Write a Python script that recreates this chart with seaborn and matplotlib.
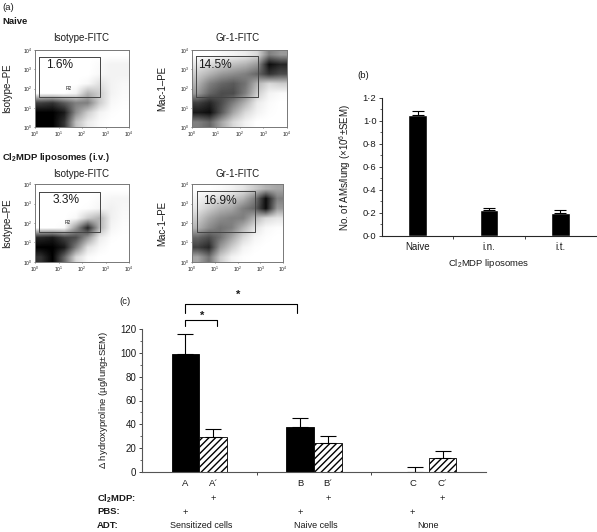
import numpy as np
import pandas as pd
import matplotlib
matplotlib.use("Agg")
import matplotlib.pyplot as plt
from matplotlib.lines import Line2D
from matplotlib.ticker import MultipleLocator
import seaborn as sns

W, H = 597, 532

# panel (a): dot density, half decade cells, top row first
naive_iso = [
    [0, 0, 0, 0, 0, 0, 0, 0],
    [0, 0, 0, 0, 0, .02, .05, .05],
    [0, 0, 0, 0, 0, .03, .05, .05],
    [0, 0, 0, 0, .03, .12, .05, .03],
    [0, 0, 0, .05, .3, .2, .05, .02],
    [.75, .8, .65, .5, .5, .2, .03, .01],
    [1, 1, .9, .45, .2, .05, .01, 0],
    [1, 1, .8, .25, .08, .02, 0, 0],
]
naive_gr1 = [
    [0, 0, .03, .05, .08, .15, .5, .4],
    [.1, .15, .2, .25, .3, .4, .95, .85],
    [.2, .3, .4, .45, .5, .6, .8, .7],
    [.3, .5, .6, .65, .55, .3, .15, .2],
    [.4, .6, .7, .7, .5, .2, .05, .02],
    [.75, .85, .7, .5, .3, .08, .02, 0],
    [.9, .95, .65, .35, .15, .05, .01, 0],
    [.5, .6, .35, .15, .05, 0, 0, 0],
]
lipo_iso = [
    [0, 0, 0, 0, 0, 0, 0, 0],
    [0, 0, 0, 0, 0, .02, .04, .04],
    [0, 0, 0, 0, .01, .04, .06, .03],
    [0, 0, 0, .03, .2, .3, .06, .02],
    [0, 0, .02, .4, .85, .3, .04, .01],
    [.85, .9, .75, .7, .4, .08, .01, 0],
    [1, 1, .9, .5, .12, .03, 0, 0],
    [.8, 1, .6, .15, .02, 0, 0, 0],
]
lipo_gr1 = [
    [0, 0, .02, .05, .1, .2, .3, .35],
    [.05, .1, .15, .2, .3, .5, .95, .5],
    [.1, .2, .3, .35, .5, .6, .95, .4],
    [.2, .35, .45, .5, .5, .3, .15, .1],
    [.3, .45, .55, .5, .3, .12, .03, .01],
    [.6, .7, .55, .35, .15, .04, .01, 0],
    [.75, .85, .4, .2, .05, .01, 0, 0],
    [.35, .55, .2, .05, .01, 0, 0, 0],
]
percents = ["1.6%", "14.5%", "3.3%", "16.9%"]
flow_ticks = [0, 1, 2, 3, 4]

# panel (b)
am_groups = ["Naive", "i.n.", "i.t."]
am_values = [1.05, 0.225, 0.2]
am_errors = [0.04, 0.02, 0.03]

# panel (c)
hyp_groups = ["Sensitized cells", "Naive cells", "None"]
hyp_treat = ["PBS", "Cl2MDP"]
hyp_pbs = [99, 38, 0]
hyp_cl2 = [29, 24, 11.5]
hyp_pbs_err = [17, 7, 4]
hyp_cl2_err = [7.5, 6, 6]
hyp_letters = ["A", "A´", "B", "B´", "C", "C´"]

sns.set_theme(style="ticks")
plt.rcParams["font.family"] = ["Liberation Sans", "DejaVu Sans"]
plt.rcParams["mathtext.fontset"] = "custom"
plt.rcParams["mathtext.rm"] = "Liberation Sans"
plt.rcParams["mathtext.bf"] = "Liberation Sans:bold"
plt.rcParams["hatch.linewidth"] = 1.0

fig = plt.figure(figsize=(W / 100, H / 100), dpi=100, facecolor="white")
TXT = "#1a1a1a"


def add_ax(x0, y0, x1, y1):
    # pixel box of the picture, y going down
    return fig.add_axes([x0 / W, 1 - y1 / H, (x1 - x0) / W, (y1 - y0) / H])


def put(x, y, s, size=6.8, ha="center", va="center", **kw):
    fig.text(x / W, 1 - y / H, s, fontsize=size, ha=ha, va=va, color=TXT, **kw)


def seg(xs, ys, lw=0.8, color="black"):
    fig.add_artist(Line2D([x / W for x in xs], [1 - y / H for y in ys], lw=lw, color=color))


'''
   --------Panel a------------
'''
put(2, 7, "(a)", ha="left")
put(2, 22, "Naive", ha="left", fontweight="bold")
put(2, 157, r"Cl$_\mathbf{2}$MDP liposomes (i.v.)", ha="left", fontweight="bold")

flow = [
    (naive_iso, (35, 50, 129, 127), (39, 57, 100, 97), percents[0], (60, 65), (69, 88), "Isotype-FITC", "Isotype–PE", 7, 38),
    (naive_gr1, (192, 50, 287, 127), (196, 56, 258, 97), percents[1], (215, 65), None, "Gr-1-FITC", "Mac-1–PE", 162, 38),
    (lipo_iso, (35, 184, 129, 262), (39, 192, 100, 232), percents[2], (66, 200), (68, 223), "Isotype-FITC", "Isotype–PE", 7, 174),
    (lipo_gr1, (192, 184, 283, 262), (197, 191, 255, 232), percents[3], (220, 201), None, "Gr-1-FITC", "Mac-1–PE", 162, 174),
]
for grid, box, gate, pct, pct_xy, r2_xy, xname, yname, yname_x, title_y in flow:
    ax = add_ax(*box)
    ax.imshow(np.array(grid), cmap="gray_r", vmin=0, vmax=1, extent=(0, 4, 0, 4),
              aspect="auto", interpolation="bilinear")
    ax.set_xticks(flow_ticks)
    ax.set_yticks(flow_ticks)
    ax.set_xticklabels([f"$10^{t}$" for t in flow_ticks], fontsize=3.5, color=TXT)
    ax.set_yticklabels([f"$10^{t}$" for t in flow_ticks], fontsize=3.5, color=TXT)
    ax.tick_params(length=1, width=0.4, pad=0.8)
    for s in ax.spines.values():
        s.set_linewidth(0.7)
        s.set_color("#777777")
    seg([gate[0], gate[2], gate[2], gate[0], gate[0]],
        [gate[1], gate[1], gate[3], gate[3], gate[1]], lw=0.7, color="#444444")
    put(pct_xy[0], pct_xy[1], pct, size=8.6)
    if r2_xy:
        put(r2_xy[0], r2_xy[1], "R2", size=3.5)
    put(238 if box[0] > 100 else 81, title_y, xname, size=7)
    put(yname_x, (box[1] + box[3]) / 2, yname, size=7, rotation=90)

'''
   --------Panel b------------
'''
put(363, 76, "(b)")
ax_b = add_ax(382, 98, 596, 236)
df_b = pd.DataFrame({"group": am_groups, "value": am_values})
sns.barplot(data=df_b, x="group", y="value", color="black", width=0.26, saturation=1,
            errorbar=None, ax=ax_b)
xpos = [p.get_x() + p.get_width() / 2 for p in ax_b.patches]
ax_b.errorbar(xpos, am_values, yerr=[[0] * 3, am_errors], fmt="none", ecolor="black",
              elinewidth=0.8, capsize=4, capthick=0.8)
ax_b.set_xlim(-0.5, 2.5)
ax_b.set_ylim(0, 1.2)
ax_b.set_xlabel("")
ax_b.set_ylabel("")
ax_b.yaxis.set_minor_locator(MultipleLocator(0.1))
ax_b.set_yticks(np.arange(0, 1.3, 0.2))
ax_b.set_yticklabels([f"{v:.1f}".replace(".", "·") for v in np.arange(0, 1.3, 0.2)], fontsize=6.8, color=TXT)
ax_b.set_xticks([0.5, 1.5], minor=False)
ax_b.set_xticklabels(["", ""])
ax_b.tick_params(axis="both", which="major", length=2, width=0.6, pad=2)
ax_b.tick_params(axis="y", which="minor", length=1.2, width=0.5)
sns.despine(ax=ax_b)
for s in ("left", "bottom"):
    ax_b.spines[s].set_linewidth(0.8)
for name, x in zip(am_groups, [418, 489, 560]):
    put(x, 247, name, size=7)
put(489, 263, r"Cl$_2$MDP liposomes", size=6.8)
put(345, 167, r"No. of AMs/lung ($\times$10$^6$±SEM)", size=7, rotation=90)

'''
   --------Panel c------------
'''
put(125, 302, "(c)")
ax_c = add_ax(142, 329, 486, 472)
df_c = pd.DataFrame({
    "group": hyp_groups * 2,
    "treat": [hyp_treat[0]] * 3 + [hyp_treat[1]] * 3,
    "value": hyp_pbs + hyp_cl2,
})
sns.barplot(data=df_c, x="group", y="value", hue="treat", hue_order=hyp_treat,
            palette=["black", "white"], width=0.485, gap=0, saturation=1,
            errorbar=None, legend=False, ax=ax_c)
for bar in ax_c.containers[0]:
    bar.set_edgecolor("black")
    bar.set_linewidth(0.6)
for bar in ax_c.containers[1]:
    bar.set_hatch("/////")
    bar.set_edgecolor("black")
    bar.set_linewidth(0.6)
centers = []
for cont, vals, errs in zip(ax_c.containers, [hyp_pbs, hyp_cl2], [hyp_pbs_err, hyp_cl2_err]):
    xs = [b.get_x() + b.get_width() / 2 for b in cont]
    centers.append(xs)
    ax_c.errorbar(xs, vals, yerr=[[0] * 3, errs], fmt="none", ecolor="black",
                  elinewidth=0.8, capsize=6, capthick=0.8)
ax_c.set_xlim(-0.5, 2.5)
ax_c.set_ylim(0, 120)
ax_c.set_xlabel("")
ax_c.set_ylabel("")
ax_c.set_yticks(range(0, 121, 20))
ax_c.set_yticklabels(range(0, 121, 20), fontsize=7, color=TXT)
ax_c.yaxis.set_minor_locator(MultipleLocator(10))
ax_c.set_xticks([0.5, 1.5])
ax_c.set_xticklabels(["", ""])
ax_c.tick_params(axis="both", which="major", length=2, width=0.6, pad=2)
ax_c.tick_params(axis="y", which="minor", length=1.2, width=0.5)
sns.despine(ax=ax_c)
ax_c.spines["bottom"].set_color("#555555")
ax_c.spines["left"].set_color("#555555")
ax_c.spines["bottom"].set_linewidth(0.8)
ax_c.spines["left"].set_linewidth(0.8)
put(103, 400, r"$\Delta$ hydroxyproline (µg/lung±SEM)", size=6.8, rotation=90)

# rows under the bars, x taken from the drawn bars
to_px = lambda v: 142 + (v + 0.5) / 3 * 344
group_shift = [2, 2, -1]
for i in range(3):
    x_pbs = to_px(centers[0][i])
    x_cl2 = to_px(centers[1][i])
    put(x_pbs - (2 if i == 2 else 0), 483, hyp_letters[2 * i])
    put(x_cl2, 483, hyp_letters[2 * i + 1])
    put(x_cl2, 499, "+")
    put(x_pbs - (2 if i == 2 else 0), 512, "+")
    put(to_px(i) + group_shift[i], 525, hyp_groups[i], size=6.5)
put(97, 499, r"Cl$_\mathbf{2}$MDP:", ha="left", fontweight="bold")
put(97, 512, "PBS:", ha="left", fontweight="bold")
put(97, 525, "ADT:", ha="left", fontweight="bold")

# significance brackets
seg([185, 185, 297, 297], [313, 304, 304, 313])
seg([185, 185, 217, 217], [326, 320, 320, 326])
put(238, 295, "*", size=8, fontweight="bold")
put(202, 316, "*", size=8, fontweight="bold")

fig.savefig("out.png", dpi=100)
